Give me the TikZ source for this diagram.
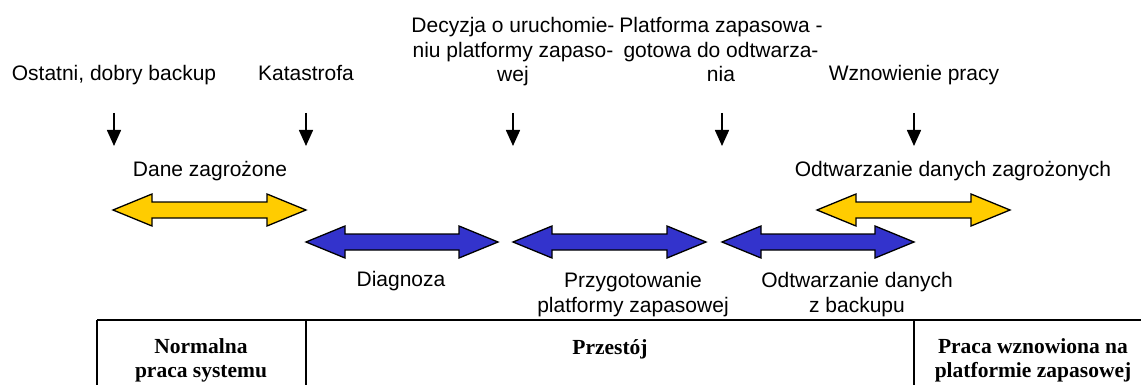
\documentclass[tikz,border=0pt]{standalone}
\usepackage{fontspec}
\setmainfont{Liberation Sans}
\newfontfamily\tmsfont{Liberation Serif}
\usetikzlibrary{arrows.meta}
\definecolor{arryellow}{HTML}{FFCC00}
\definecolor{arrblue}{HTML}{3333CC}
\tikzset{
  lbl/.style={inner sep=0pt, anchor=base, align=center, font=\fontsize{21}{24.5}\selectfont},
  tlbl/.style={inner sep=0pt, anchor=base, align=center, font=\tmsfont\bfseries\fontsize{21.5}{24}\selectfont},
  dn/.style={line width=1.6pt, -{Triangle[width=14pt,length=16pt]}},
  tbl/.style={line width=1.3pt},
  dbl/.style={line width=1.3pt, line join=miter, draw=black},
}
\newcommand\dblarr[4]{%
  \filldraw[dbl, fill=#4] (#1,#3) -- ({#1+39},{#3-16}) -- ({#1+39},{#3-8}) -- ({#2-39},{#3-8}) -- ({#2-39},{#3-16}) -- (#2,#3) -- ({#2-39},{#3+16}) -- ({#2-39},{#3+8}) -- ({#1+39},{#3+8}) -- ({#1+39},{#3+16}) -- cycle;}
\begin{document}
\begin{tikzpicture}[x=1pt,y=-1pt]
\useasboundingbox (0,0) rectangle (1141,385);
% top labels (base anchor = baseline of last line)
\node[lbl] (t1) at (114,81) {Ostatni, dobry backup};
\node[lbl] (t2) at (306,81) {Katastrofa};
\node[lbl] (t3) at (513,82) {Decyzja o uruchomie-\\niu platformy zapaso-\\wej};
\node[lbl] (t4) at (721,82) {Platforma zapasowa -\\gotowa do odtwarza-\\nia};
\node[lbl] (t5) at (914,81) {Wznowienie pracy};
% down arrows
\foreach \i/\x in {1/114,2/306,3/513,4/722,5/914}{
  \coordinate (s\i) at (\x,113);
  \coordinate (e\i) at (\x,146);
  \draw[dn] (s\i) -- (e\i);
}
% interval labels
\node[lbl] (l1) at (210,176) {Dane zagrożone};
\node[lbl] (l2) at (953,176) {Odtwarzanie danych zagrożonych};
\node[lbl] (l3) at (401,286) {Diagnoza};
\node[lbl] (l4) at (633,312) {Przygotowanie\\platformy zapasowej};
\node[lbl] (l5) at (857,312) {Odtwarzanie danych\\z backupu};
% double arrows
\dblarr{113}{306}{210}{arryellow}
\dblarr{817}{1010}{210}{arryellow}
\dblarr{306}{498}{242}{arrblue}
\dblarr{513}{706}{242}{arrblue}
\dblarr{722}{914}{242}{arrblue}
% table
\coordinate (c0) at (97,320);
\coordinate (c1) at (306,320);
\coordinate (c2) at (914,320);
\coordinate (c3) at (1142,320);
\draw[tbl] (c0) -- (c3);
\draw[tbl] (c0) -- (97,386);
\draw[tbl] (c1) -- (306,386);
\draw[tbl] (c2) -- (914,386);
\node[tlbl] (b1) at (201,377) {Normalna\\praca systemu};
\node[tlbl] (b2) at (610,354) {Przestój};
\node[tlbl] (b3) at (1033,377) {Praca wznowiona na\\platformie zapasowej};
\end{tikzpicture}
\end{document}
